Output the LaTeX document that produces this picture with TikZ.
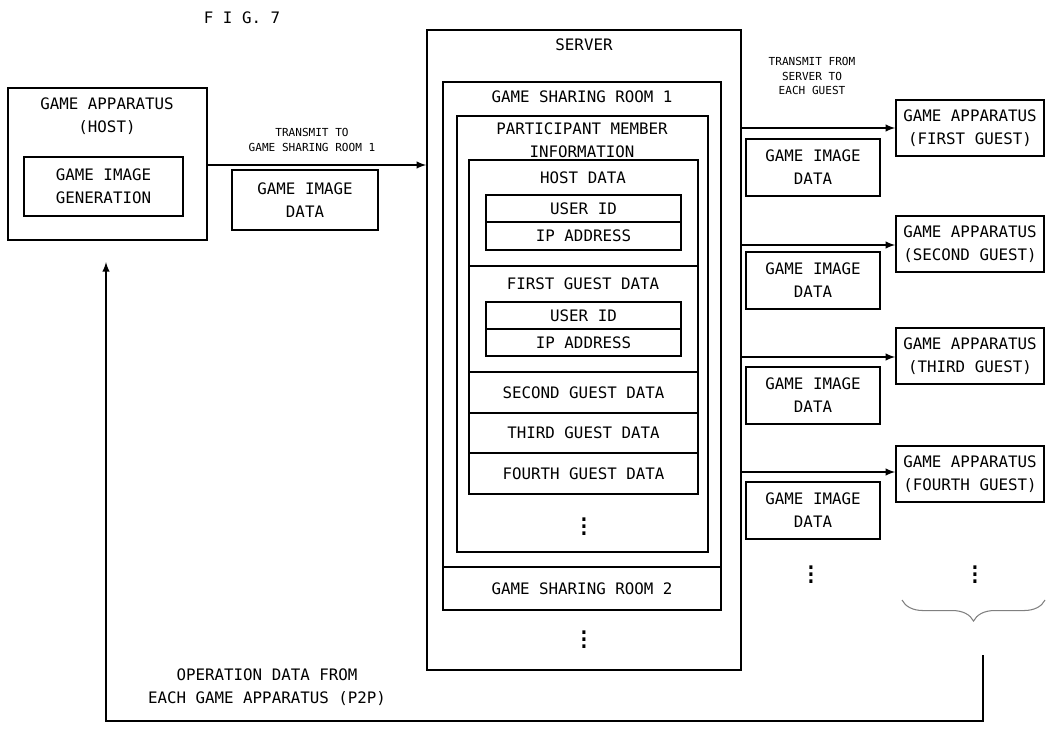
\documentclass[tikz,border=0pt]{standalone}
\usepackage{fontspec}
\setmainfont{DejaVu Sans Mono}
\usetikzlibrary{decorations.pathreplacing}
\tikzset{
  box/.style={draw=black,line width=0.9pt,inner sep=0pt,align=center,font=\fontsize{9}{13}\selectfont},
  lbl/.style={align=center,font=\fontsize{9}{13}\selectfont},
  small/.style={align=center,font=\fontsize{6.3}{8}\selectfont},
  dots/.style={font=\fontsize{14}{14}\selectfont,inner sep=0pt},
  arr/.style={line width=0.9pt,-latex},
}
\newcommand{\bx}[6]{\node[box,minimum width={(#4-#2)*0.02cm},minimum height={(#5-#3)*0.02cm}] (#1) at ({(#2+#4)/2},{(#3+#5)/2}) {#6};}
\begin{document}
\begin{tikzpicture}[x=0.02cm,y=-0.02cm]
\useasboundingbox (0,0) rectangle (1053,729);
%Titel
\node[lbl] (fig) at (242,18) {F I G.\ 7};
%Host
\bx{host}{8}{88}{207}{240}{}
\node[lbl] (hosttitle) at (107,116) {GAME APPARATUS\\(HOST)};
\bx{gen}{24}{157}{183}{216}{GAME IMAGE\\GENERATION}
\bx{data0}{232}{170}{378}{230}{GAME IMAGE\\DATA}
\node[small] (tx1) at (312,140) {TRANSMIT TO\\GAME SHARING ROOM 1};
%Server
\bx{server}{427}{30}{741}{670}{}
\node[lbl] (servertitle) at (584,45) {SERVER};
\bx{room1}{443}{82}{721}{567}{}
\node[lbl] (room1title) at (582,97) {GAME SHARING ROOM 1};
\bx{part}{457}{116}{708}{552}{}
\node[lbl] (parttitle) at (582,140) {PARTICIPANT MEMBER\\INFORMATION};
\bx{hostdata}{469}{160}{698}{266}{}
\node[lbl] (hdtitle) at (583,178) {HOST DATA};
\bx{uid1}{486}{195}{681}{222}{USER ID}
\bx{ip1}{486}{222}{681}{250}{IP ADDRESS}
\bx{g1data}{469}{266}{698}{372}{}
\node[lbl] (g1title) at (583,284) {FIRST GUEST DATA};
\bx{uid2}{486}{302}{681}{329}{USER ID}
\bx{ip2}{486}{329}{681}{356}{IP ADDRESS}
\bx{g2data}{469}{372}{698}{413}{SECOND GUEST DATA}
\bx{g3data}{469}{413}{698}{453}{THIRD GUEST DATA}
\bx{g4data}{469}{453}{698}{494}{FOURTH GUEST DATA}
\node[dots] (dots1) at (584,521) {$\vdots$};
\bx{room2}{443}{567}{721}{610}{GAME SHARING ROOM 2}
\node[dots] (dots2) at (584,634) {$\vdots$};
%Gaeste
\node[small] (tx2) at (812,76) {TRANSMIT FROM\\SERVER TO\\EACH GUEST};
\foreach \n/\t/\d/\ay [count=\i] in {first/100/139/128,second/216/252/245,third/328/367/357,fourth/446/482/472}{
  \bx{guest\i}{896}{\t}{1044}{\t+56}{}
  \node[lbl] at (guest\i) {GAME APPARATUS\\(\MakeUppercase{\n} GUEST)};
  \bx{gdata\i}{746}{\d}{880}{\d+57}{GAME IMAGE\\DATA}
  \coordinate (s\i) at (741,\ay);
  \draw[arr] (s\i) -- (guest\i.west |- s\i);
}
\node[dots] (dots3) at (811,569) {$\vdots$};
\node[dots] (dots4) at (975,569) {$\vdots$};
\draw[gray,line width=0.6pt,decorate,decoration={brace,mirror,amplitude=12pt}] (902,600) -- (1045,600);
%Rueckweg
\node[lbl] (p2p) at (267,687) {OPERATION DATA FROM\\EACH GAME APPARATUS (P2P)};
\coordinate (b1) at (983,655);
\coordinate (b2) at (983,721);
\coordinate (b3) at (106,721);
\coordinate (b4) at (106,262);
\draw[arr] (b1) -- (b2) -- (b3) -- (b4);
\coordinate (h1) at (207,165);
\draw[arr] (h1) -- (server.west |- h1);
\end{tikzpicture}
\end{document}
